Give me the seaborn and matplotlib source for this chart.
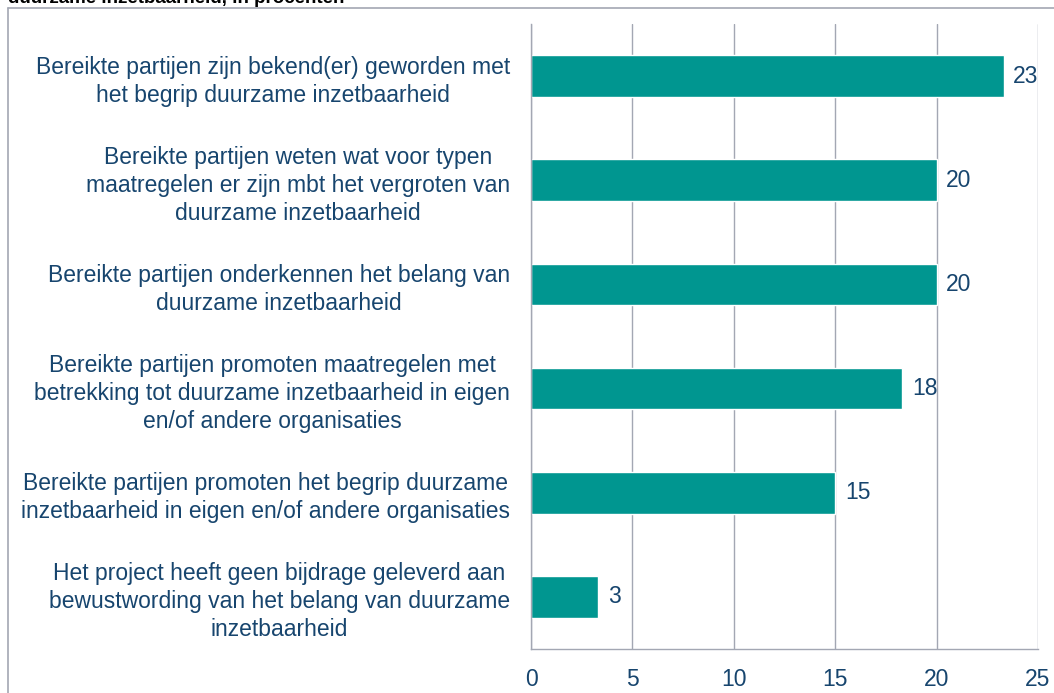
import pandas as pd
import matplotlib.pyplot as plt
import seaborn as sns
from matplotlib.lines import Line2D

# Gegevens
categorieen = [
    "Bereikte partijen zijn bekend(er) geworden met\nhet begrip duurzame inzetbaarheid",
    "Bereikte partijen weten wat voor typen\nmaatregelen er zijn mbt het vergroten van\nduurzame inzetbaarheid",
    "Bereikte partijen onderkennen het belang van\nduurzame inzetbaarheid",
    "Bereikte partijen promoten maatregelen met\nbetrekking tot duurzame inzetbaarheid in eigen\nen/of andere organisaties",
    "Bereikte partijen promoten het begrip duurzame\ninzetbaarheid in eigen en/of andere organisaties",
    "Het project heeft geen bijdrage geleverd aan\nbewustwording van het belang van duurzame\ninzetbaarheid",
]
waarden = [23.3, 20.0, 20.0, 18.3, 15.0, 3.3]
labels = ["23", "20", "20", "18", "15", "3"]
x_ticks = [0, 5, 10, 15, 20, 25]

df = pd.DataFrame({"categorie": categorieen, "waarde": waarden})

sns.set_style("white")
plt.rcParams["font.family"] = ["Liberation Sans", "DejaVu Sans"]

tekst_kleur = "#17456E"
grijs = "#A3A7B3"
balk_kleur = "#009690"
fs = 16.5

fig = plt.figure(figsize=(10.54, 6.93), dpi=100)
ax = fig.add_axes([531 / 1054, 1 - 649 / 693, (1038 - 531) / 1054, (649 - 24) / 693])

sns.barplot(data=df, y="categorie", x="waarde", orient="h", color=balk_kleur,
            saturation=1, width=0.4, ax=ax)

ax.set_xlim(0, 25)
ax.set_ylim(5.5, -0.5)
ax.set_xticks(x_ticks)
ax.set_xticklabels([str(t) for t in x_ticks])
ax.tick_params(axis="x", colors=grijs, labelcolor=tekst_kleur, labelsize=fs,
               length=6, width=1, direction="out", pad=8)

# categorie-labels op het midden, tickstreepjes op de grenzen
ax.set_yticks([i - 0.5 for i in range(len(categorieen) + 1)])
ax.set_yticklabels([])
ax.set_yticks(range(len(categorieen)), minor=True)
ax.set_yticklabels(categorieen, minor=True, multialignment="center", linespacing=1.28)
ax.tick_params(axis="y", which="major", colors=grijs, length=6, width=1, direction="out")
ax.tick_params(axis="y", which="minor", length=0, pad=15, labelsize=fs,
               labelcolor=tekst_kleur)
ax.set_xlabel("")
ax.set_ylabel("")

ax.grid(axis="x", color=grijs, linewidth=1)
ax.set_axisbelow(True)
for s in ["top", "right"]:
    ax.spines[s].set_visible(False)
for s in ["left", "bottom"]:
    ax.spines[s].set_color(grijs)
    ax.spines[s].set_linewidth(1)

ax.bar_label(ax.containers[0], labels=labels, padding=7, fontsize=fs, color=tekst_kleur)

# kader en afgesneden titel
fig.add_artist(Line2D([8 / 1054, 8 / 1054], [0, 1 - 8 / 693], color=grijs, lw=1.2,
                      transform=fig.transFigure))
fig.add_artist(Line2D([8 / 1054, 1], [1 - 8 / 693, 1 - 8 / 693], color=grijs, lw=1.2,
                      transform=fig.transFigure))
fig.text(8 / 1054, 1 - 3 / 693, "duurzame inzetbaarheid, in procenten",
         fontsize=13.5, fontweight="bold", color="black", va="baseline", ha="left")

plt.savefig("out.png", dpi=100)
